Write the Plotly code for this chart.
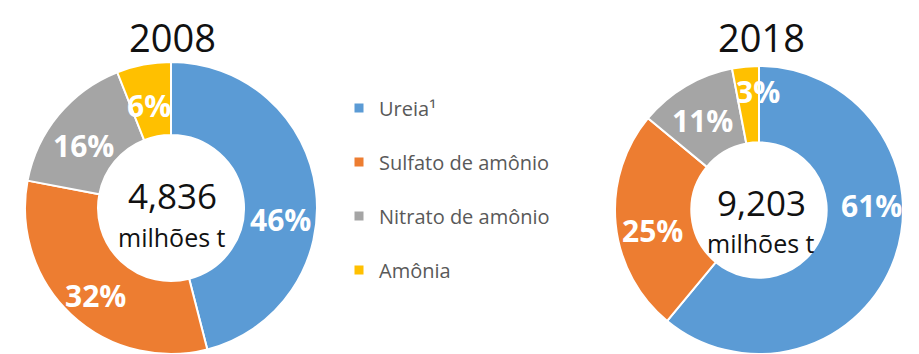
import plotly.graph_objects as go

# Nitrogen fertiliser mix by product (share of total, %)
categorias = ["Ureia¹", "Sulfato de amônio", "Nitrato de amônio", "Amônia"]
cores = ["#5B9BD5", "#ED7D31", "#A5A5A5", "#FFC000"]

anos = ["2008", "2018"]
participacao_2008 = [46, 32, 16, 6]
participacao_2018 = [61, 25, 11, 3]
totais = ["4,836", "9,203"]
unidade = "milhões t"

W, H = 919, 354
FONT = "Open Sans"

# Placement of each donut (centre x, centre y, radius, hole) in pixels
donuts = [(171, 208, 146, 0.50), (759, 210, 144, 0.47)]
# Percentage label offsets from the donut centre, as fractions of the radius
# (slice order: Ureia, Sulfato, Nitrato, Amônia)
pos_rotulos = [
    [(0.75, 0.08), (-0.52, 0.60), (-0.60, -0.43), (-0.15, -0.70)],
    [(0.78, -0.03), (-0.74, 0.14), (-0.39, -0.62), (-0.01, -0.82)],
]
# Title / total / unit rows: (x, y_title, y_total, y_unit)
pos_textos = [(172, 37, 195, 237), (761, 37, 202, 243)]

fig = go.Figure()


def px_x(v):
    return v / W


def px_y(v):
    # pixel measured from the top -> paper fraction from the bottom
    return (H - v) / H


def donut(valores, cx, cy, r, hole):
    return go.Pie(
        labels=categorias,
        values=valores,
        sort=False,
        direction="clockwise",
        rotation=0,
        hole=hole,
        marker=dict(colors=cores, line=dict(color="white", width=2)),
        textinfo="none",
        hoverinfo="label+percent",
        showlegend=False,
        domain=dict(x=[px_x(cx - r), px_x(cx + r)],
                    y=[px_y(cy + r), px_y(cy - r)]),
    )


valores_por_ano = [participacao_2008, participacao_2018]
for valores, (cx, cy, r, hole) in zip(valores_por_ano, donuts):
    fig.add_trace(donut(valores, cx, cy, r, hole))

# Legend entries (one group each so the items can be spaced apart)
for nome, cor in zip(categorias, cores):
    fig.add_trace(go.Scatter(
        x=[None], y=[None], mode="markers", name=nome,
        legendgroup=nome,
        marker=dict(symbol="square", size=9, color=cor),
        hoverinfo="skip",
    ))


def texto(t, x, y, size, color="#111111", weight="normal"):
    return dict(
        text=t, x=px_x(x), y=px_y(y), xref="paper", yref="paper",
        showarrow=False, xanchor="center", yanchor="middle",
        font=dict(family=FONT, size=size, color=color, weight=weight),
    )


annotations = []
for ano, total, valores, rotulos, (tx, ty, ny, uy), (cx, cy, r, _) in zip(
        anos, totais, valores_por_ano, pos_rotulos, pos_textos, donuts):
    annotations.append(texto(ano, tx, ty, 38))
    annotations.append(texto(total, tx, ny, 35))
    annotations.append(texto(unidade, tx, uy, 25))
    for v, (fx, fy) in zip(valores, rotulos):
        annotations.append(texto(f"{v}%", cx + fx * r, cy + fy * r, 30,
                                 "white", "bold"))

fig.update_layout(
    width=W, height=H,
    margin=dict(l=0, r=0, t=0, b=0),
    paper_bgcolor="white", plot_bgcolor="white",
    xaxis=dict(visible=False), yaxis=dict(visible=False),
    annotations=annotations,
    legend=dict(
        x=px_x(339), y=px_y(189), xanchor="left", yanchor="middle",
        font=dict(family=FONT, size=20, color="#595959"),
        tracegroupgap=25, bgcolor="rgba(0,0,0,0)",
        itemclick=False, itemdoubleclick=False,
    ),
)

fig.write_html("out.html")
